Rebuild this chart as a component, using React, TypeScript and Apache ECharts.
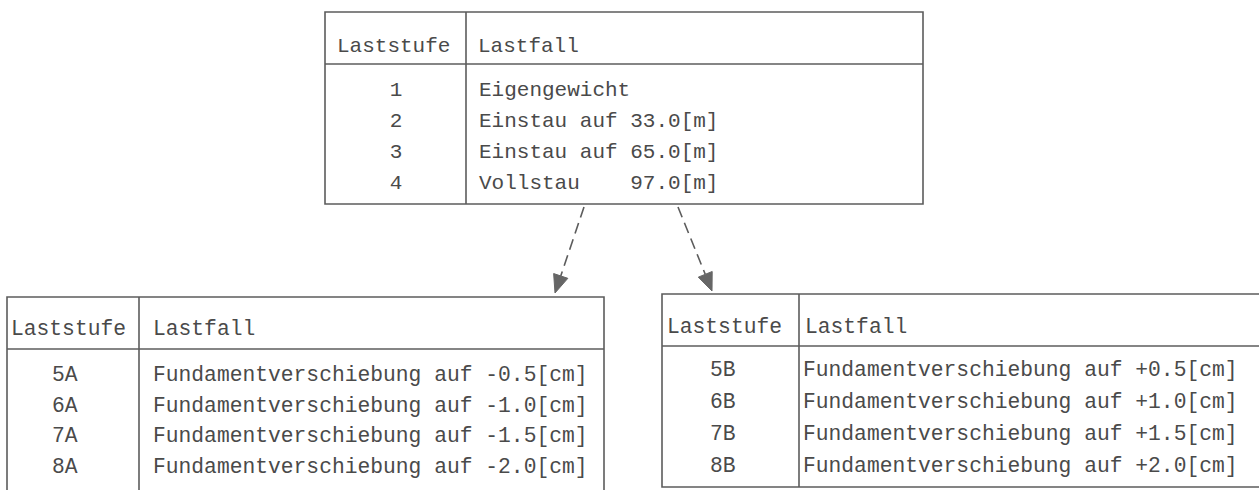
import React, { useEffect, useRef } from "react";
import * as echarts from "echarts";

const headers = ["Laststufe", "Lastfall"];
const topStages = ["1", "2", "3", "4"];
const topCases = [
  "Eigengewicht",
  "Einstau auf 33.0[m]",
  "Einstau auf 65.0[m]",
  "Vollstau    97.0[m]",
];
const leftStages = ["5A", "6A", "7A", "8A"];
const leftCases = [
  "Fundamentverschiebung auf -0.5[cm]",
  "Fundamentverschiebung auf -1.0[cm]",
  "Fundamentverschiebung auf -1.5[cm]",
  "Fundamentverschiebung auf -2.0[cm]",
];
const rightStages = ["5B", "6B", "7B", "8B"];
const rightCases = [
  "Fundamentverschiebung auf +0.5[cm]",
  "Fundamentverschiebung auf +1.0[cm]",
  "Fundamentverschiebung auf +1.5[cm]",
  "Fundamentverschiebung auf +2.0[cm]",
];

const TEXT = "#4a4a4a";
const LINE = "#5c5c5c";
const FONT = "Liberation Mono";

function txt(text: string, x: number, y: number, fs: number, align: string = "left") {
  return {
    type: "text",
    x,
    y,
    silent: true,
    style: {
      text,
      fill: TEXT,
      fontFamily: FONT,
      fontSize: fs,
      align,
      verticalAlign: "middle",
    },
  };
}

function line(x1: number, y1: number, x2: number, y2: number, dash?: number[]) {
  return {
    type: "line",
    silent: true,
    shape: { x1, y1, x2, y2 },
    style: { stroke: LINE, lineWidth: 1.6, lineDash: dash },
  };
}

interface TableCfg {
  x: number; y: number; w: number; h: number;
  headerLineY: number; divX: number; headerTextY: number;
  hdr1X: number; hdr2X: number;
  row0Y: number; rowStep: number;
  stageX: number; stageAlign: string; caseX: number;
  fs: number;
  stages: string[]; cases: string[];
}

function table(c: TableCfg) {
  const els: any[] = [];
  els.push({
    type: "rect",
    silent: true,
    shape: { x: c.x, y: c.y, width: c.w, height: c.h },
    style: { fill: "none", stroke: LINE, lineWidth: 1.6 },
  });
  els.push(line(c.x, c.headerLineY, c.x + c.w, c.headerLineY));
  els.push(line(c.divX, c.y, c.divX, c.y + c.h));
  els.push(txt(headers[0], c.hdr1X, c.headerTextY, c.fs));
  els.push(txt(headers[1], c.hdr2X, c.headerTextY, c.fs));
  c.stages.forEach((s, i) => {
    els.push(txt(s, c.stageX, c.row0Y + i * c.rowStep, c.fs, c.stageAlign));
  });
  c.cases.forEach((s, i) => {
    els.push(txt(s, c.caseX, c.row0Y + i * c.rowStep, c.fs));
  });
  return els;
}

function arrow(x1: number, y1: number, x2: number, y2: number) {
  const dx = x2 - x1, dy = y2 - y1;
  const len = Math.sqrt(dx * dx + dy * dy);
  const ux = dx / len, uy = dy / len;
  const headLen = 18, half = 7.5;
  const bx = x2 - ux * headLen, by = y2 - uy * headLen;
  const px = -uy * half, py = ux * half;
  return [
    line(x1, y1, bx, by, [11, 6]),
    {
      type: "polygon",
      silent: true,
      shape: { points: [[x2, y2], [bx + px, by + py], [bx - px, by - py]] },
      style: { fill: "#666666", stroke: "#666666", lineWidth: 1 },
    },
  ];
}

export default function App() {
  const ref = useRef<HTMLDivElement>(null);
  useEffect(() => {
    document.body.style.margin = "0";
    const chart = echarts.init(ref.current!, undefined, { renderer: "svg" });
    const elements: any[] = [
      ...table({
        x: 325, y: 12, w: 598, h: 192,
        headerLineY: 64, divX: 466, headerTextY: 46,
        hdr1X: 337, hdr2X: 478,
        row0Y: 90, rowStep: 31.3,
        stageX: 396, stageAlign: "center", caseX: 479,
        fs: 21,
        stages: topStages, cases: topCases,
      }),
      ...table({
        x: 7, y: 297, w: 597, h: 230,
        headerLineY: 349, divX: 139, headerTextY: 329,
        hdr1X: 11, hdr2X: 153,
        row0Y: 375, rowStep: 30.7,
        stageX: 52, stageAlign: "left", caseX: 153,
        fs: 21.3,
        stages: leftStages, cases: leftCases,
      }),
      ...table({
        x: 662, y: 294, w: 620, h: 193,
        headerLineY: 346, divX: 799, headerTextY: 327,
        hdr1X: 667, hdr2X: 805,
        row0Y: 370, rowStep: 32,
        stageX: 710, stageAlign: "left", caseX: 803,
        fs: 21.3,
        stages: rightStages, cases: rightCases,
      }),
      ...arrow(584, 207, 555, 293),
      ...arrow(678, 207, 712, 291),
    ];
    chart.setOption({
      animation: false,
      backgroundColor: "#ffffff",
      graphic: { elements },
    });
    return () => chart.dispose();
  }, []);
  return <div ref={ref} style={{ width: 1259, height: 490 }} />;
}
